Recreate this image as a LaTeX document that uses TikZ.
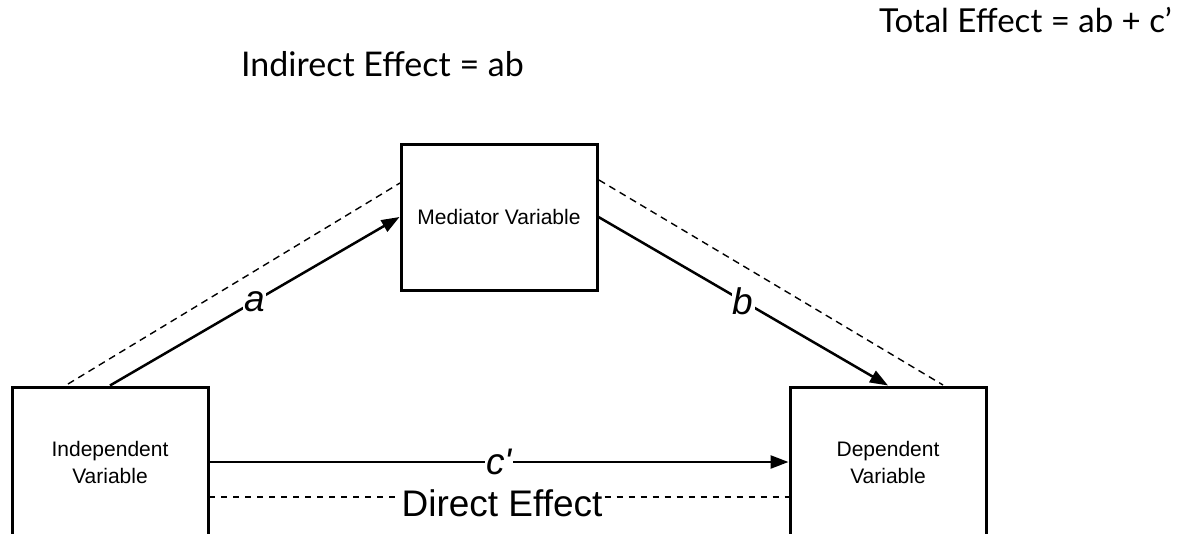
\documentclass[tikz,border=0pt]{standalone}
\usepackage{fontspec}
\setmainfont{Liberation Sans}
\newfontfamily\latofont{Lato}
\usetikzlibrary{arrows.meta}
\begin{document}
\begin{tikzpicture}[x=1pt,y=-1pt,
  varbox/.style={draw=black, line width=3pt, minimum width=196pt, minimum height=146pt, align=center, font=\fontsize{21}{27}\selectfont, inner sep=0pt},
  effarrow/.style={line width=2.5pt, -{Triangle[length=18pt,width=13pt]}},
  pathlabel/.style={fill=white, inner sep=1pt, font=\fontsize{37}{40}\selectfont\itshape},
  indline/.style={line width=1.4pt, dash pattern=on 7pt off 5pt},
  dirline/.style={line width=2.6pt, dash pattern=on 6pt off 6pt},
  eqtext/.style={font=\latofont\fontsize{33}{36}\selectfont, inner sep=0pt}]
\clip (0,0) rectangle (1188,533);
\useasboundingbox (0,0) rectangle (1188,533);
\node[varbox] (med) at (499,217) {Mediator Variable};
\node[varbox, minimum height=150pt] (ind) at (110,462) {Independent\\Variable};
\node[varbox, minimum height=150pt] (dep) at (888,462) {Dependent\\Variable};
\draw[effarrow] (ind.north) -- node[pathlabel] (la) {a} (med.west);
\draw[effarrow] (med.east) -- node[pathlabel] (lb) {b} (dep.north);
\draw[effarrow] (ind.east) -- node[pathlabel] (lc) {c\textquotesingle} (dep.west);
\coordinate (d1s) at (68,384);
\coordinate (d1e) at (400,183);
\coordinate (d2s) at (599,180);
\coordinate (d2e) at (943,385);
\draw[indline] (d1s) -- (d1e);
\draw[indline] (d2s) -- (d2e);
\node[font=\fontsize{37}{40}\selectfont, inner sep=2pt, anchor=base] (de) at (502,516) {Direct Effect};
\coordinate (dl) at (209,497);
\coordinate (dr) at (789,497);
\draw[dirline] (dl) -- (dl -| de.west);
\draw[dirline] (de.east |- dr) -- (dr);
\node[eqtext, anchor=base east] (tot) at (1172,32) {Total Effect = ab + c’};
\node[eqtext, anchor=base west, font=\latofont\fontsize{34}{36}\selectfont] (ind2) at (241,76) {Indirect Effect = ab};
\end{tikzpicture}
\end{document}
